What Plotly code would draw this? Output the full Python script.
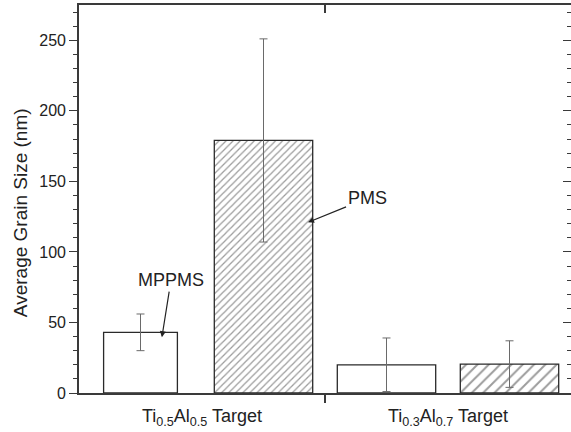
import plotly.graph_objects as go

# Average grain size per target composition and deposition mode
mppms_x = [0.25, 1.25]
mppms_width = [0.30, 0.40]
mppms_size = [43, 20]
mppms_err = [13, 19]

pms_x = [0.75, 1.75]
pms_width = [0.40, 0.40]
pms_size = [179, 20.5]
pms_err = [72, 16.5]

group_centers = [0.5, 1.5]
group_labels = ["Ti<sub>0.5</sub>Al<sub>0.5</sub> Target", "Ti<sub>0.3</sub>Al<sub>0.7</sub> Target"]

FONT = "Liberation Sans, Arial, sans-serif"
AX = "#3a3a3a"

fig = go.Figure()

fig.add_trace(go.Bar(
    name="MPPMS", x=mppms_x, y=mppms_size, width=mppms_width,
    marker=dict(color="white", line=dict(color="#2a2a2a", width=1.3)),
    error_y=dict(type="data", array=mppms_err, color="#6a6a6a", thickness=1, width=4),
    showlegend=False,
))
fig.add_trace(go.Bar(
    name="PMS", x=pms_x, y=pms_size, width=pms_width,
    marker=dict(color="white", line=dict(color="#2a2a2a", width=1.3),
                pattern=dict(shape="/", fgcolor="#3a3a3a", bgcolor="white",
                             size=[5, 8], solidity=0.25)),
    error_y=dict(type="data", array=pms_err, color="#6a6a6a", thickness=1, width=4),
    showlegend=False,
))
# empty trace so the top/right frame axes are rendered
fig.add_trace(go.Scatter(x=[], y=[], xaxis="x2", yaxis="y2", showlegend=False, hoverinfo="skip"))

fig.add_annotation(x=0.337, y=39.5, ax=0.374, ay=80, xref="x", yref="y", axref="x", ayref="y",
                   text="MPPMS", showarrow=True, arrowhead=2, arrowsize=1, arrowwidth=1.2,
                   arrowcolor="#222222", font=dict(family=FONT, size=18, color="#222222"))
fig.add_annotation(x=0.931, y=121, ax=1.171, ay=138, xref="x", yref="y", axref="x", ayref="y",
                   text="PMS", showarrow=True, arrowhead=2, arrowsize=1, arrowwidth=1.2,
                   arrowcolor="#222222", font=dict(family=FONT, size=18, color="#222222"))

# y-axis title, left of the tick labels and a little below the plot's vertical centre
fig.add_annotation(x=-0.12, y=0.466, xref="paper", yref="paper", text="Average Grain Size (nm)",
                   textangle=-90, showarrow=False, xanchor="center", yanchor="middle",
                   font=dict(family=FONT, size=19, color="#222222"))

fig.update_layout(
    width=571, height=432, autosize=False,
    margin=dict(l=79, r=0, t=5, b=39),
    paper_bgcolor="white", plot_bgcolor="white",
    font=dict(family=FONT, color="#222222"),
    barmode="overlay",
    xaxis=dict(
        range=[0, 2], showgrid=False, zeroline=False,
        showline=True, linecolor=AX, linewidth=1.6,
        tickmode="array", tickvals=group_centers, ticktext=group_labels,
        ticks="outside", ticklen=6, tickcolor="rgba(0,0,0,0)",
        tickfont=dict(size=18, family=FONT, color="#222222"),
        minor=dict(tickmode="array", tickvals=[1], ticks="outside", ticklen=8,
                   tickwidth=1.6, tickcolor=AX, showgrid=False),
    ),
    xaxis2=dict(
        range=[0, 2], overlaying="x", side="top", showgrid=False, zeroline=False,
        showline=True, linecolor=AX, linewidth=1.6,
        tickmode="array", tickvals=[1], ticks="inside", ticklen=8, tickwidth=1.6,
        tickcolor=AX, showticklabels=False,
    ),
    yaxis=dict(
        range=[0, 275], showgrid=False, zeroline=False,
        showline=True, linecolor=AX, linewidth=1.6,
        tickmode="linear", tick0=0, dtick=50,
        ticks="outside", ticklen=8, tickwidth=1.3, tickcolor=AX,
        tickfont=dict(size=16, family=FONT, color="#222222"),
        minor=dict(dtick=10, ticks="outside", ticklen=4, tickwidth=1, tickcolor=AX, showgrid=False),
    ),
    yaxis2=dict(
        range=[0, 275], overlaying="y", side="right", showgrid=False, zeroline=False,
        showline=False,
        tickmode="linear", tick0=0, dtick=50,
        ticks="inside", ticklen=8, tickwidth=1.3, tickcolor=AX, showticklabels=False,
        minor=dict(dtick=10, ticks="inside", ticklen=4, tickwidth=1, tickcolor=AX, showgrid=False),
    ),
)

fig.write_html("out.html")
